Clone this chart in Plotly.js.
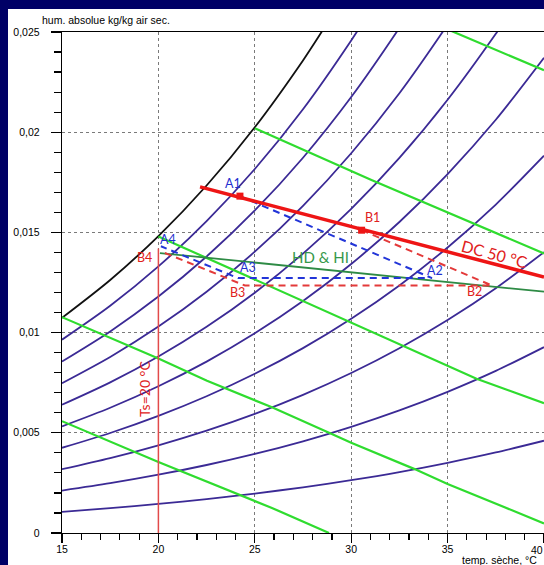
<!DOCTYPE html>
<html><head><meta charset="utf-8">
<script src="https://cdn.plot.ly/plotly-3.0.1.min.js"></script>
<style>
html,body{margin:0;padding:0;background:#000066;width:544px;height:565px;overflow:hidden;}
#chart{position:absolute;left:8px;top:9px;width:536px;height:556px;}
</style></head><body><div id="chart"></div>
<script>
// Dry-bulb temperature grid (°C)
const T = [15,17.5,20,22.5,25,27.5,30,32.5,35,37.5,40];
// Relative humidity curves (absolute humidity kg/kg)
const rh10 = [0.001057,0.001240,0.001451,0.001692,0.001968,0.002281,0.002639,0.003043,0.003503,0.004019,0.004604];
const rh20 = [0.002118,0.002485,0.002908,0.003393,0.003947,0.004578,0.005300,0.006117,0.007045,0.008089,0.009275];
const rh30 = [0.003182,0.003735,0.004373,0.005104,0.005940,0.006894,0.007984,0.009220,0.010626,0.012212,0.014016];
const rh40 = [0.004251,0.004990,0.005843,0.006823,0.007945,0.009225,0.010691,0.012354,0.014249,0.016389,0.018827];
const rh50 = [0.005322,0.006250,0.007322,0.008552,0.009963,0.011574,0.013421,0.015519,0.017913,0.020622,0.023713];
const rh60_T = [15,17.5,20,22.5,25,27.5,30,32.5,35,37.5,38];
const rh60 = [0.006398,0.007515,0.008807,0.010291,0.011993,0.013940,0.016173,0.018716,0.021619,0.024910,0.025627];
const rh70_T = [15,17.5,20,22.5,25,27.5,30,32.5,35,35.5];
const rh70 = [0.007476,0.008784,0.010299,0.012039,0.014037,0.016324,0.018951,0.021944,0.025368,0.026104];
const rh80_T = [15,17.5,20,22.5,25,27.5,30,32.5,33];
const rh80 = [0.008559,0.010060,0.011798,0.013796,0.016094,0.018726,0.021753,0.025205,0.025952];
const rh90_T = [15,17.5,20,22.5,25,27.5,30,31];
const rh90 = [0.009646,0.011339,0.013304,0.015564,0.018164,0.021145,0.024578,0.026080];
const sat_T = [15,17.5,20,22.5,25,27.5,28.6,29];
const sat = [0.010735,0.012625,0.014817,0.017341,0.020248,0.023583,0.025206,0.025821];

// Wet-bulb / enthalpy lines (light green)
const g10_T = [15,20,25.89,28.85];
const g10_w = [0.00558,0.00354,0.00125,0.0];
const g15_T = [15,20,22.52,25.89,28.85,30,33.26,35,40];
const g15_w = [0.01077,0.00871,0.0076,0.00627,0.0050,0.0045,0.0032,0.00245,0.00048];
const g20_T = [20,25.89,36.5,40];
const g20_w = [0.0148,0.01228,0.0077,0.00648];
const g25_T = [25,31.08,40];
const g25_w = [0.0202,0.0176,0.01395];
const g30_T = [34.5,35.32,40];
const g30_w = [0.02535,0.0250,0.02309];

// Process points
const dc_T = [22.16,40];
const dc_w = [0.01727,0.01277];
const cycleA_T = [24.23,34.19,24.13,20.13];
const cycleA_w = [0.01681,0.01272,0.01272,0.01431];
const cycleB_T = [30.54,37.30,24.49,20.24];
const cycleB_w = [0.01511,0.01235,0.01235,0.01401];
const hd_T = [20.08,40];
const hd_w = [0.01397,0.01204];
const ts_T = [20,20];
const ts_w = [0,0.0142];
const mark_T = [24.23,30.54];
const mark_w = [0.01681,0.01511];

const purple = '#3b2a95';
const lgreen = '#2fdc2f';
const traces = [];
function line(x,y,color,width,dash,shape){
  traces.push({x:x,y:y,type:'scatter',mode:'lines',hoverinfo:'skip',
    line:{color:color,width:width,dash:dash||'solid',shape:shape||'linear',smoothing:0.8}});
}
[[T,rh10],[T,rh20],[T,rh30],[T,rh40],[T,rh50],[rh60_T,rh60],[rh70_T,rh70],[rh80_T,rh80],[rh90_T,rh90]]
  .forEach(p=>line(p[0],p[1],purple,1.8,'solid','spline'));
line(sat_T,sat,'#111',1.8,'solid','spline');
[[g10_T,g10_w],[g15_T,g15_w],[g20_T,g20_w],[g25_T,g25_w],[g30_T,g30_w]]
  .forEach(p=>line(p[0],p[1],lgreen,2.2,'solid','linear'));
line(ts_T,ts_w,'#e24a4a',1.5);
line(hd_T,hd_w,'#2e8b45',1.8);
line(cycleB_T,cycleB_w,'#e33a3a',2,'7px,5px');
line(cycleA_T,cycleA_w,'#2235d8',2,'7px,5px');
line(dc_T,dc_w,'#ee1515',3.5);
traces.push({x:mark_T,y:mark_w,type:'scatter',mode:'markers',hoverinfo:'skip',
  marker:{symbol:'square',size:7,color:'#ee1515'}});

const lab = (x,y,t,c,s,ang)=>({x:x,y:y,xref:'x',yref:'y',text:t,showarrow:false,
  font:{family:'Lato, Open Sans, sans-serif',size:s,color:c},textangle:ang||0});
const blue='#1f30d0', red='#e02020';
const layout = {
  width:536,height:556,margin:{l:54,r:0,t:23,b:32},
  paper_bgcolor:'#ffffff',plot_bgcolor:'#ffffff',showlegend:false,separators:', ',
  font:{family:'Liberation Sans, Arial, sans-serif',size:10.5,color:'#000'},
  xaxis:{range:[15,40],tick0:15,dtick:5,ticks:'outside',ticklen:9,tickwidth:1.2,tickcolor:'#000',
    showline:true,linecolor:'#000',linewidth:1.3,mirror:true,showgrid:true,gridcolor:'#7a7a7a',
    griddash:'dot',gridwidth:1,zeroline:false,fixedrange:true,ticklabelstandoff:-3,
    minor:{dtick:1,tick0:15,ticks:'outside',ticklen:6,tickwidth:1.2,tickcolor:'#000',showgrid:false}},
  yaxis:{range:[0,0.025],tick0:0,dtick:0.005,ticks:'outside',ticklen:10,tickwidth:1.2,tickcolor:'#000',
    showline:true,linecolor:'#000',linewidth:1.3,showgrid:true,gridcolor:'#7a7a7a',
    griddash:'dot',gridwidth:1,zeroline:false,fixedrange:true,ticklabelstandoff:9,
    minor:{dtick:0.001,tick0:0,ticks:'outside',ticklen:7,tickwidth:1.2,tickcolor:'#000',showgrid:false}},
  annotations:[
    {xref:'paper',yref:'paper',x:0,y:1,xanchor:'left',yanchor:'middle',xshift:-22,yshift:12,
      text:'hum. absolue kg/kg air sec.',showarrow:false,font:{size:10.5,color:'#000'}},
    {xref:'paper',yref:'paper',x:1,y:0,xanchor:'right',yanchor:'middle',xshift:-5,yshift:-27,
      text:'temp. sèche, °C',showarrow:false,font:{size:10.5,color:'#000'}},
    {xref:'x',yref:'paper',x:40,y:0,xanchor:'right',yanchor:'top',yshift:-9,xshift:1,
      text:'40',showarrow:false,font:{size:10.5,color:'#000'}},
    lab(23.87,0.01746,'A1',blue,12.5),
    lab(31.08,0.01573,'B1',red,12.5),
    lab(34.35,0.01312,'A2',blue,12.5),
    lab(36.42,0.01203,'B2',red,12.5),
    lab(24.65,0.01327,'A3',blue,12.5),
    lab(24.08,0.01202,'B3',red,12.5),
    lab(20.50,0.01466,'A4',blue,12.5),
    lab(19.30,0.01377,'B4',red,12.5),
    lab(28.43,0.01377,'HD &amp; HI','#35984a',15),
    lab(37.41,0.01397,'DC 50 °C',red,16,15),
    lab(19.25,0.00718,'Ts=20 °C',red,14,-90)
  ]
};
Plotly.newPlot('chart',traces,layout,{displayModeBar:false,staticPlot:true});
</script></body></html>
